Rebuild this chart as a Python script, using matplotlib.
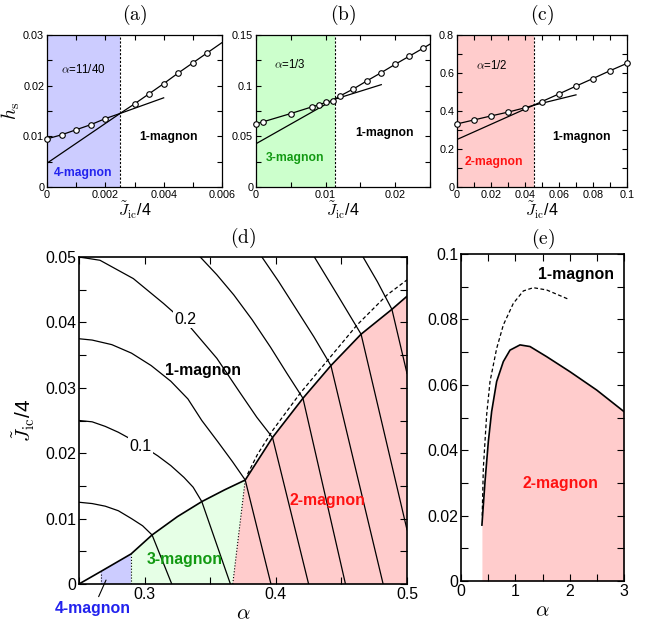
import matplotlib
matplotlib.use('Agg')
import matplotlib.pyplot as plt
from matplotlib.ticker import MultipleLocator, FuncFormatter

plt.rcParams['font.family'] = ['Liberation Sans', 'DejaVu Sans']
plt.rcParams['mathtext.fontset'] = 'cm'

# ---- panel (a): alpha = 11/40 ----
a_x_lo = [0, 0.0005, 0.001, 0.0015, 0.002]
a_y_lo = [0.0095, 0.0103, 0.0113, 0.0123, 0.0135]
a_x_hi = [0.003, 0.0035, 0.004, 0.0045, 0.005, 0.0055]
a_y_hi = [0.0164, 0.0184, 0.0204, 0.0225, 0.0245, 0.0265]
a_cross = (0.0025, 0.0145)
a_steep0 = 0.0047
a_shallow_end = (0.004, 0.0176)
a_edge = (0.006, 0.0285)

# ---- panel (b): alpha = 1/3 ----
b_x_lo = [0, 0.001, 0.005, 0.008, 0.009, 0.010, 0.011]
b_y_lo = [0.0624, 0.0643, 0.0725, 0.079, 0.081, 0.0834, 0.0853]
b_x_hi = [0.012, 0.014, 0.016, 0.018, 0.020, 0.022, 0.024]
b_y_hi = [0.0896, 0.0968, 0.105, 0.1129, 0.1211, 0.129, 0.1369]
b_cross = (0.0113, 0.0866)
b_steep0 = 0.0427
b_shallow_end = (0.018, 0.101)
b_edge = (0.025, 0.141)

# ---- panel (c): alpha = 1/2 ----
c_x_lo = [0, 0.01, 0.02, 0.03, 0.04]
c_y_lo = [0.332, 0.353, 0.374, 0.394, 0.417]
c_x_hi = [0.05, 0.06, 0.07, 0.08, 0.09, 0.1]
c_y_hi = [0.45, 0.49, 0.531, 0.571, 0.612, 0.651]
c_cross = (0.045, 0.43)
c_steep0 = 0.25
c_shallow_end = (0.07, 0.485)
c_edge = (0.1, 0.651)

# ---- panel (d): phase diagram ----
# lower boundary of the 1-magnon phase
bnd_alpha = [0.25, 0.2665, 0.2897, 0.3057, 0.325, 0.3436, 0.361, 0.3767,
             0.3975, 0.4207, 0.442, 0.465, 0.4885, 0.5]
bnd_j = [0.0, 0.0019, 0.0046, 0.0075, 0.0103, 0.0126, 0.0144, 0.0159,
         0.0224, 0.0284, 0.0334, 0.0382, 0.042, 0.044]
alpha_4m = 0.2665
alpha_3m = 0.2897
alpha_2m_bottom = 0.3672

dash_alpha = [0.3785, 0.386, 0.398, 0.4187, 0.4403, 0.4619, 0.4848, 0.5]
dash_j = [0.0168, 0.0198, 0.0236, 0.0292, 0.0344, 0.0396, 0.0442, 0.0465]

# h_s contours (0.05 ... 0.4)
cont_alpha = [
    [0.25, 0.26, 0.27, 0.28, 0.29, 0.2985, 0.3057, 0.3207],
    [0.25, 0.26, 0.27, 0.28, 0.29, 0.30, 0.31, 0.32, 0.33, 0.337, 0.3436, 0.3654],
    [0.25, 0.26, 0.275, 0.29, 0.305, 0.32, 0.333, 0.3436, 0.356, 0.367, 0.3767, 0.3963],
    [0.25, 0.266, 0.2914, 0.3144, 0.3347, 0.3551, 0.3729, 0.3855, 0.3975, 0.425],
    [0.3424, 0.355, 0.368, 0.382, 0.396, 0.4085, 0.4207, 0.4531],
    [0.3894, 0.402, 0.416, 0.429, 0.442, 0.4818],
    [0.4294, 0.447, 0.465, 0.5],
    [0.4665, 0.4775, 0.4885, 0.5],
]
cont_j = [
    [0.0125, 0.0123, 0.0119, 0.0112, 0.0100, 0.0089, 0.0075, 0.0],
    [0.025, 0.0248, 0.0241, 0.0232, 0.0221, 0.0209, 0.0196, 0.0181, 0.0163, 0.0148, 0.0126, 0.0],
    [0.0375, 0.0373, 0.0366, 0.0353, 0.0334, 0.0310, 0.0283, 0.0250, 0.0217, 0.0187, 0.0159, 0.0],
    [0.05, 0.0495, 0.0467, 0.0429, 0.0393, 0.0345, 0.0292, 0.0255, 0.0224, 0.0],
    [0.05, 0.0473, 0.0442, 0.0404, 0.0362, 0.0322, 0.0284, 0.0],
    [0.05, 0.0463, 0.0419, 0.0378, 0.0334, 0.0],
    [0.05, 0.0442, 0.0382, 0.0083],
    [0.05, 0.0462, 0.042, 0.0322],
]

# ---- panel (e) ----
e_alpha = [0.385, 0.442, 0.503, 0.564, 0.656, 0.779, 0.902, 1.086, 1.27, 1.577, 2.006, 2.497, 3.0]
e_j = [0.0171, 0.0304, 0.0426, 0.0518, 0.061, 0.0671, 0.0706, 0.0722, 0.0717, 0.0686, 0.064, 0.0584, 0.0518]
e_dash_alpha = [0.39, 0.411, 0.472, 0.534, 0.656, 0.779, 0.963, 1.147, 1.331, 1.577, 1.988]
e_dash_j = [0.02, 0.0345, 0.0508, 0.061, 0.0711, 0.0783, 0.0849, 0.0887, 0.0897, 0.0890, 0.0861]

BLUE = '#ccccff'
GREEN_TOP = '#ccffcc'
GREEN = '#e6ffe6'
PINK = '#ffcccc'
JLABEL = r'$\tilde{J}_{\rm ic}$/4'

fig = plt.figure(figsize=(6.57, 6.27), dpi=100)
W, H = 657.0, 627.0


def px_axes(l, t, r, b):
    return fig.add_axes([l / W, 1 - b / H, (r - l) / W, (b - t) / H])


fmt = FuncFormatter(lambda v, p: '%g' % round(v, 6))


def style(ax, xmaj, xmin, ymaj, ymin, fs, lw):
    ax.xaxis.set_major_locator(MultipleLocator(xmaj))
    ax.xaxis.set_minor_locator(MultipleLocator(xmin))
    ax.yaxis.set_major_locator(MultipleLocator(ymaj))
    ax.yaxis.set_minor_locator(MultipleLocator(ymin))
    ax.xaxis.set_major_formatter(fmt)
    ax.yaxis.set_major_formatter(fmt)
    ax.tick_params(which='both', direction='in', top=True, right=True,
                   labelsize=fs, length=3.5, width=0.8, pad=2)
    for s in ax.spines.values():
        s.set_linewidth(lw)


def top_panel(ax, x_lo, y_lo, x_hi, y_hi, cross, steep0, shallow_end, edge, shade):
    ax.axvspan(0, cross[0], color=shade, lw=0, zorder=0)
    ax.axvline(cross[0], color='k', ls=(0, (2, 1.5)), lw=0.8, zorder=1)
    xs = x_lo + [cross[0]] + x_hi + [edge[0]]
    ys = y_lo + [cross[1]] + y_hi + [edge[1]]
    ax.plot(xs, ys, 'k-', lw=0.9, zorder=2)
    ax.plot([0, cross[0]], [steep0, cross[1]], 'k-', lw=0.9, zorder=2)
    ax.plot([cross[0], shallow_end[0]], [cross[1], shallow_end[1]], 'k-', lw=0.9, zorder=2)
    ax.plot(x_lo + x_hi, y_lo + y_hi, 'o', mfc='white', mec='k', ms=4, mew=0.8,
            zorder=3, clip_on=False)
    ax.set_xlim(0, edge[0])
    ax.set_xlabel(JLABEL, fontsize=11.5, labelpad=0)


# (a)
ax = px_axes(47, 35, 222, 187)
top_panel(ax, a_x_lo, a_y_lo, a_x_hi, a_y_hi, a_cross, a_steep0, a_shallow_end, a_edge, BLUE)
ax.set_ylim(0, 0.03)
style(ax, 0.002, 0.001, 0.01, 0.005, 7.8, 0.9)
ax.set_ylabel(r'$h_{\rm s}$', fontsize=14, labelpad=1)
ax.set_title(r'$\mathrm{(a)}$', fontsize=14, pad=11)
ax.text(0.00123, 0.0231, r'$\alpha$=11/40', fontsize=8.3, ha='center', va='center')
ax.text(0.00123, 0.0028, '4-magnon', fontsize=8.7, fontweight='bold', color='#2222ee',
        ha='center', va='center')
ax.text(0.00415, 0.0099, '1-magnon', fontsize=8.7, fontweight='bold', ha='center', va='center')

# (b)
ax = px_axes(256, 35, 430, 187)
top_panel(ax, b_x_lo, b_y_lo, b_x_hi, b_y_hi, b_cross, b_steep0, b_shallow_end, b_edge, GREEN_TOP)
ax.set_ylim(0, 0.15)
style(ax, 0.01, 0.005, 0.05, 0.025, 7.8, 0.9)
ax.set_title(r'$\mathrm{(b)}$', fontsize=14, pad=11)
ax.text(0.0049, 0.1204, r'$\alpha$=1/3', fontsize=8.3, ha='center', va='center')
ax.text(0.0056, 0.0286, '3-magnon', fontsize=8.7, fontweight='bold', color='#119911',
        ha='center', va='center')
ax.text(0.0185, 0.0533, '1-magnon', fontsize=8.7, fontweight='bold', ha='center', va='center')

# (c)
ax = px_axes(457, 35, 627, 187)
top_panel(ax, c_x_lo, c_y_lo, c_x_hi, c_y_hi, c_cross, c_steep0, c_shallow_end, c_edge, PINK)
ax.set_ylim(0, 0.8)
style(ax, 0.02, 0.01, 0.2, 0.1, 7.8, 0.9)
ax.set_title(r'$\mathrm{(c)}$', fontsize=14, pad=11)
ax.text(0.0204, 0.638, r'$\alpha$=1/2', fontsize=8.3, ha='center', va='center')
ax.text(0.0218, 0.13, '2-magnon', fontsize=8.7, fontweight='bold', color='#ff1111',
        ha='center', va='center')
ax.text(0.0733, 0.265, '1-magnon', fontsize=8.7, fontweight='bold', ha='center', va='center')

# (d)
ax = px_axes(79, 257, 407, 584)
i4 = bnd_alpha.index(alpha_4m)
i3 = bnd_alpha.index(alpha_3m)
itp = bnd_j.index(0.0159)
ax.fill([alpha_4m] + bnd_alpha[i4:i3 + 1] + [alpha_3m],
        [0] + bnd_j[i4:i3 + 1] + [0], color=BLUE, lw=0, zorder=0)
ax.fill([alpha_3m] + bnd_alpha[i3:itp + 1] + [alpha_2m_bottom],
        [0] + bnd_j[i3:itp + 1] + [0], color=GREEN, lw=0, zorder=0)
ax.fill([alpha_2m_bottom] + bnd_alpha[itp:] + [bnd_alpha[-1]],
        [0] + bnd_j[itp:] + [0], color=PINK, lw=0, zorder=0)
ax.plot([alpha_4m, alpha_4m], [0, bnd_j[i4]], 'k:', lw=0.8)
ax.plot([alpha_3m, alpha_3m], [0, bnd_j[i3]], 'k:', lw=0.8)
ax.plot([alpha_2m_bottom, bnd_alpha[itp]], [0, bnd_j[itp]], 'k:', lw=0.8)
ax.plot(bnd_alpha, bnd_j, 'k-', lw=1.2)
ax.plot(dash_alpha, dash_j, 'k--', lw=0.9, dashes=(3, 2))
for ca, cj in zip(cont_alpha, cont_j):
    ax.plot(ca, cj, 'k-', lw=0.9)
ax.set_xlim(0.25, 0.5)
ax.set_ylim(0, 0.05)
style(ax, 0.1, 0.05, 0.01, 0.005, 11.4, 1.2)
ax.tick_params(which='both', length=5)
ax.set_xlabel(r'$\alpha$', fontsize=15, labelpad=2)
ax.set_ylabel(JLABEL, fontsize=15, labelpad=6)
ax.set_title(r'$\mathrm{(d)}$', fontsize=14, pad=10)
box = dict(facecolor='white', edgecolor='none', pad=1)
ax.text(0.331, 0.0405, '0.2', fontsize=11.4, ha='center', va='center', bbox=box)
ax.text(0.2966, 0.0211, '0.1', fontsize=11.4, ha='center', va='center', bbox=box)
ax.text(0.3447, 0.0327, '1-magnon', fontsize=11.4, fontweight='bold', ha='center', va='center')
ax.text(0.3309, 0.0037, '3-magnon', fontsize=11.4, fontweight='bold', color='#119911',
        ha='center', va='center')
ax.text(0.4395, 0.0127, '2-magnon', fontsize=11.4, fontweight='bold', color='#ff1111',
        ha='center', va='center')
ax.annotate('4-magnon', xy=(0.2706, 0.0006), xytext=(0.2607, -0.0037),
            fontsize=11.4, fontweight='bold', color='#2222ee', ha='center', va='center',
            annotation_clip=False,
            arrowprops=dict(arrowstyle='-', lw=0.8, color='k', relpos=(0.55, 1.0),
                            shrinkA=1, shrinkB=0))

# (e)
ax = px_axes(461, 254, 624, 581)
ax.fill_between(e_alpha, 0, e_j, color=PINK, lw=0, zorder=0)
ax.plot(e_alpha, e_j, 'k-', lw=1.2)
ax.plot(e_dash_alpha, e_dash_j, 'k--', lw=0.9, dashes=(3, 2))
ax.set_xlim(0, 3)
ax.set_ylim(0, 0.1)
style(ax, 1, 0.5, 0.02, 0.01, 11.4, 1.2)
ax.tick_params(which='both', length=5)
ax.set_xlabel(r'$\alpha$', fontsize=15, labelpad=2)
ax.set_title(r'$\mathrm{(e)}$', fontsize=14, pad=7)
ax.text(2.12, 0.0936, '1-magnon', fontsize=11.4, fontweight='bold', ha='center', va='center')
ax.text(1.835, 0.0299, '2-magnon', fontsize=11.4, fontweight='bold', color='#ff1111',
        ha='center', va='center')

fig.savefig('out.png', dpi=100)
